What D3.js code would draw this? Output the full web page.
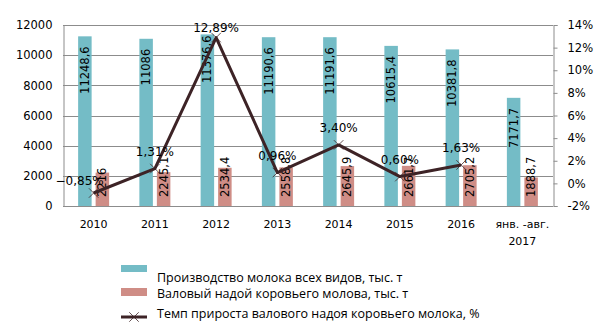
<!DOCTYPE html>
<html>
<head>
<meta charset="utf-8">
<script src="https://cdn.jsdelivr.net/npm/d3@7"></script>
<style>
  html, body { margin: 0; padding: 0; background: #fff; }
  svg { display: block; }
</style>
</head>
<body>
<svg id="chart" width="612" height="326"></svg>
<script>
// Milk production, cow milk yield and its growth rate
const categories = ["2010", "2011", "2012", "2013", "2014", "2015", "2016", "янв. -авг.|2017"];
const milkAll = [11248.6, 11086, 11376.6, 11190.6, 11191.6, 10615.4, 10381.8, 7171.7];
const cowMilk = [2216, 2245.1, 2534.4, 2558.8, 2645.9, 2661.7, 2705.2, 1888.7];
const growthRate = [-0.85, 1.31, 12.89, 0.96, 3.40, 0.60, 1.63];
const leftTicks = [0, 2000, 4000, 6000, 8000, 10000, 12000];
const rightTicks = [-2, 0, 2, 4, 6, 8, 10, 12, 14];
const seriesNames = [
  "Производство молока всех видов, тыс. т",
  "Валовый надой коровьего молова, тыс. т",
  "Темп прироста валового надоя коровьего молока, %"
];

const colBlue = "#74bcc6";
const colPink = "#cf8d86";
const colLine = "#3d2326";
const colGrid = "#8c8c8c";
const tickFont = "DejaVu Sans, Verdana, sans-serif";
const legendFont = "Open Sans, Noto Sans, sans-serif";

const loc = d3.formatLocale({ decimal: ",", thousands: "", grouping: [3], currency: ["", ""] });
const fmtVal = loc.format(".1~f");
const fmtPct = loc.format(".2f");

const svg = d3.select("#chart");
const L = 63, R = 553, T = 25, B = 206;

const x0 = d3.scaleBand().domain(d3.range(categories.length)).range([L, R]).paddingInner(0.494).paddingOuter(0.247);
const x1 = d3.scaleBand().domain([0, 1]).range([0, x0.bandwidth()]).paddingInner(0.2286);
const yL = d3.scaleLinear().domain([0, 12000]).range([B, T]);
const yR = d3.scaleLinear().domain([-2, 14]).range([B, T]);
const cx = i => x0(i) + x0.bandwidth() / 2;

// gridlines
svg.append("g").selectAll("line").data(leftTicks).join("line")
  .attr("x1", L).attr("x2", R)
  .attr("y1", d => Math.round(yL(d)) + 0.5).attr("y2", d => Math.round(yL(d)) + 0.5)
  .attr("stroke", colGrid).attr("stroke-width", 1);

// left axis
const axL = svg.append("g").attr("transform", `translate(${L + 0.5},0)`)
  .call(d3.axisLeft(yL).tickValues(leftTicks).tickSize(0).tickPadding(11).tickFormat(d3.format("d")));
axL.select(".domain").attr("stroke", colGrid);
axL.selectAll("text").attr("font-family", tickFont).attr("font-size", 11.5).attr("fill", "#000");

// right axis
const axR = svg.append("g").attr("transform", `translate(${R + 0.5},0)`)
  .call(d3.axisRight(yR).tickValues(rightTicks).tickSize(4).tickPadding(10).tickFormat(d => d + "%"));
axR.select(".domain").attr("stroke", colGrid);
axR.selectAll(".tick line").attr("stroke", colGrid);
axR.selectAll("text").attr("font-family", tickFont).attr("font-size", 11.5).attr("fill", "#000");

// category labels
const xl = svg.append("g");
categories.forEach((c, i) => {
  const t = xl.append("text").attr("x", cx(i)).attr("y", 228)
    .attr("text-anchor", "middle").attr("font-family", tickFont).attr("font-size", 11).attr("fill", "#000");
  c.split("|").forEach((part, k) => {
    t.append("tspan").attr("x", cx(i)).attr("dy", k === 0 ? 0 : 17).text(part);
  });
});

// bars
const bars = svg.append("g");
bars.selectAll("rect.all").data(milkAll).join("rect").attr("class", "all")
  .attr("x", (d, i) => x0(i) + x1(0)).attr("width", x1.bandwidth())
  .attr("y", d => yL(d)).attr("height", d => B - yL(d)).attr("fill", colBlue);
bars.selectAll("rect.cow").data(cowMilk).join("rect").attr("class", "cow")
  .attr("x", (d, i) => x0(i) + x1(1)).attr("width", x1.bandwidth())
  .attr("y", d => yL(d)).attr("height", d => B - yL(d)).attr("fill", colPink);

// bar value labels (rotated)
const blueNudge = { 2: -9 };
milkAll.forEach((d, i) => {
  const bx = x0(i) + x1(0) + x1.bandwidth() / 2;
  const by = yL(d) + 10 + (blueNudge[i] || 0);
  svg.append("text").attr("transform", `translate(${bx},${by}) rotate(-90)`)
    .attr("text-anchor", "end").attr("dominant-baseline", "central")
    .attr("font-family", tickFont).attr("font-size", 11.5).attr("fill", "#000")
    .text(fmtVal(d));
});
cowMilk.forEach((d, i) => {
  const bx = x0(i) + x1(1) + x1.bandwidth() / 2;
  svg.append("text").attr("transform", `translate(${bx},${B - 9}) rotate(-90)`)
    .attr("text-anchor", "start").attr("dominant-baseline", "central")
    .attr("font-family", tickFont).attr("font-size", 11.5).attr("fill", "#000")
    .text(fmtVal(d));
});

// growth-rate line
const line = d3.line().x((d, i) => cx(i)).y(d => yR(d));
svg.append("path").datum(growthRate).attr("d", line)
  .attr("fill", "none").attr("stroke", colLine).attr("stroke-width", 3).attr("stroke-linejoin", "round");
const sym = d3.symbol().type(d3.symbolX).size(60);
svg.append("g").selectAll("path").data(growthRate).join("path")
  .attr("transform", (d, i) => `translate(${cx(i)},${yR(d)})`)
  .attr("d", sym).attr("fill", "none").attr("stroke", colLine).attr("stroke-width", 0.8);

const pctNudge = { 0: [-14, 5], 2: [0, 7] };
growthRate.forEach((d, i) => {
  const n = pctNudge[i] || [0, 0];
  svg.append("text").attr("x", cx(i) + n[0]).attr("y", yR(d) - 17 + n[1])
    .attr("text-anchor", "middle").attr("dominant-baseline", "central")
    .attr("font-family", tickFont).attr("font-size", 12).attr("fill", "#000")
    .text(fmtPct(d) + "%");
});

// legend
const lg = svg.append("g");
lg.append("rect").attr("x", 121).attr("y", 265).attr("width", 26).attr("height", 7).attr("fill", colBlue);
lg.append("rect").attr("x", 121).attr("y", 288).attr("width", 26).attr("height", 8).attr("fill", colPink);
lg.append("line").attr("x1", 121).attr("x2", 147).attr("y1", 317).attr("y2", 317)
  .attr("stroke", colLine).attr("stroke-width", 3);
lg.append("path").attr("transform", "translate(134,317)").attr("d", sym)
  .attr("fill", "none").attr("stroke", colLine).attr("stroke-width", 0.8);
[282, 298, 318].forEach((y, k) => {
  lg.append("text").attr("x", 157).attr("y", y)
    .attr("font-family", legendFont).attr("font-size", 12.5).attr("fill", "#000")
    .text(seriesNames[k]);
});
</script>
</body>
</html>
